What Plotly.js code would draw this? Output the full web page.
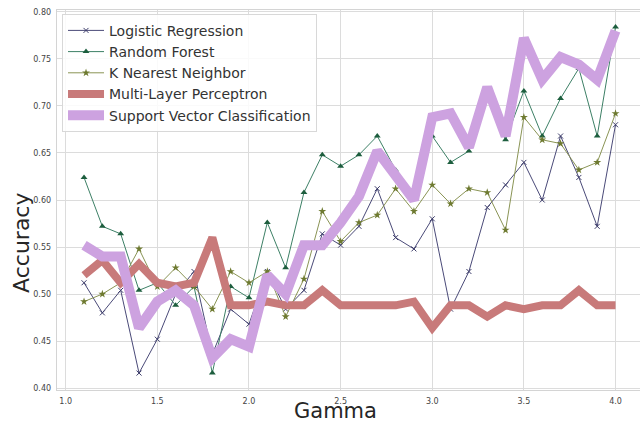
<!DOCTYPE html>
<html>
<head>
<meta charset="utf-8">
<script src="https://cdn.plot.ly/plotly-3.0.1.min.js"></script>
<style>html,body{margin:0;padding:0;background:#fff;}#chart{width:640px;height:425px;}</style>
</head>
<body>
<div id="chart"></div>
<script>
const gamma = [1.1,1.2,1.3,1.4,1.5,1.6,1.7,1.8,1.9,2.0,2.1,2.2,2.3,2.4,2.5,2.6,2.7,2.8,2.9,3.0,3.1,3.2,3.3,3.4,3.5,3.6,3.7,3.8,3.9,4.0];
const logisticRegression = [0.512,0.480,0.504,0.416,0.452,0.500,0.524,0.436,0.484,0.468,0.524,0.484,0.504,0.564,0.552,0.572,0.612,0.560,0.548,0.580,0.484,0.524,0.592,0.616,0.640,0.600,0.668,0.624,0.572,0.680];
const randomForest = [0.624,0.572,0.564,0.504,0.512,0.488,0.508,0.416,0.508,0.496,0.576,0.528,0.608,0.648,0.636,0.648,0.668,0.632,0.604,0.668,0.640,0.652,0.708,0.664,0.716,0.668,0.708,0.740,0.668,0.784];
const kNearest = [0.492,0.500,0.512,0.548,0.508,0.528,0.508,0.484,0.524,0.512,0.524,0.476,0.516,0.588,0.556,0.576,0.584,0.612,0.588,0.616,0.596,0.612,0.608,0.568,0.688,0.664,0.660,0.632,0.640,0.692];
const mlp = [0.520,0.536,0.512,0.532,0.512,0.508,0.512,0.560,0.488,0.488,0.492,0.488,0.488,0.504,0.488,0.488,0.488,0.488,0.492,0.464,0.488,0.488,0.476,0.488,0.484,0.488,0.488,0.504,0.488,0.488];
const svc = [0.552,0.540,0.540,0.464,0.492,0.504,0.488,0.432,0.452,0.444,0.520,0.500,0.552,0.552,0.576,0.604,0.652,0.624,0.600,0.688,0.692,0.656,0.720,0.668,0.772,0.728,0.752,0.744,0.728,0.780];
const names = ["Logistic Regression","Random Forest","K Nearest Neighbor","Multi-Layer Perceptron","Support Vector Classification"];
const xTicks = [1.0,1.5,2.0,2.5,3.0,3.5,4.0];
const yTicks = [0.40,0.45,0.50,0.55,0.60,0.65,0.70,0.75,0.80];
const xTitle = 'Gamma';
const yTitle = 'Accuracy';

const traces = [
  {x: gamma, y: logisticRegression, name: names[0], mode: 'lines+markers',
   line: {color: '#4a4a78', width: 1}, marker: {symbol: 'x-thin', size: 5, color: '#3c3c6a', line: {width: 1, color: '#3c3c6a'}}},
  {x: gamma, y: randomForest, name: names[1], mode: 'lines+markers',
   line: {color: '#3d8066', width: 1}, marker: {symbol: 'triangle-up', size: 6, color: '#1d5e3e'}},
  {x: gamma, y: kNearest, name: names[2], mode: 'lines+markers',
   line: {color: '#8a9455', width: 1}, marker: {symbol: 'star', size: 6, color: '#6e7a30'}},
  {x: gamma, y: mlp, name: names[3], mode: 'lines',
   line: {color: '#c87a7a', width: 8}},
  {x: gamma, y: svc, name: names[4], mode: 'lines',
   line: {color: '#cda2e0', width: 10}}
];

const axisCommon = {
  showgrid: true, gridcolor: '#dcdcdc', gridwidth: 1,
  showline: true, mirror: true, linecolor: '#d4d4d4', linewidth: 1.3,
  zeroline: false, ticks: 'outside', ticklen: 3, tickcolor: 'rgba(0,0,0,0)',
  tickfont: {family: 'DejaVu Sans', size: 8, color: '#444'}
};

const layout = {
  width: 640, height: 425,
  margin: {l: 57, r: 0, t: 10, b: 35},
  paper_bgcolor: '#ffffff', plot_bgcolor: '#ffffff',
  showlegend: true,
  xaxis: Object.assign({}, axisCommon, {
    range: [0.9525, 4.1335], tickvals: xTicks, ticktext: xTicks.map(v => v.toFixed(1))
  }),
  yaxis: Object.assign({}, axisCommon, {
    range: [0.398, 0.802], tickvals: yTicks, ticktext: yTicks.map(v => v.toFixed(2))
  }),
  annotations: [
    {text: xTitle, xref: 'paper', yref: 'paper', x: 0.477, y: -0.0905, xanchor: 'center', yanchor: 'bottom',
     borderpad: 0, showarrow: false, font: {family: 'DejaVu Sans', size: 21, color: '#262626'}},
    {text: yTitle, xref: 'paper', yref: 'paper', x: -0.060, y: 0.387, xanchor: 'center', yanchor: 'middle',
     textangle: -90, showarrow: false, font: {family: 'DejaVu Sans', size: 22, color: '#262626'}}
  ],
  legend: {
    x: 0.0086, y: 0.99, xanchor: 'left', yanchor: 'top',
    bgcolor: 'rgba(255,255,255,0.85)', bordercolor: '#d8d8d8', borderwidth: 1,
    font: {family: 'DejaVu Sans', size: 14, color: '#333'},
    itemwidth: 36, tracegroupgap: 0
  }
};

Plotly.newPlot('chart', traces, layout, {displayModeBar: false, staticPlot: true});
</script>
</body>
</html>
